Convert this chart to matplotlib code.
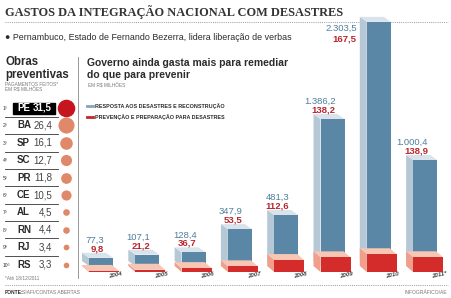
import matplotlib
matplotlib.use('Agg')
import matplotlib.pyplot as plt
from matplotlib.patches import Polygon, Rectangle

# ---------------- data ----------------
years = ['2004', '2005', '2006', '2007', '2008', '2009', '2010', '2011*']
resposta = [77.3, 107.1, 128.4, 347.9, 481.3, 1386.2, 2303.5, 1000.4]
prevencao = [9.8, 21.2, 36.7, 53.5, 112.6, 138.2, 167.5, 138.9]
states = ['PE', 'BA', 'SP', 'SC', 'PR', 'CE', 'AL', 'RN', 'RJ', 'RS']
state_vals = [31.5, 26.4, 16.1, 12.7, 11.8, 10.5, 4.5, 4.4, 3.4, 3.3]


def br(v):
    s = f"{v:,.1f}"
    return s.replace(',', 'X').replace('.', ',').replace('X', '.')


W, H = 451, 298
fig = plt.figure(figsize=(W / 100, H / 100), dpi=100)
ov = fig.add_axes([0, 0, 1, 1])
ov.set_xlim(0, W)
ov.set_ylim(H, 0)
ov.axis('off')

SANS = ['Liberation Sans', 'DejaVu Sans']
SERIF = ['Liberation Serif', 'DejaVu Serif']
DARK = '#2b2b2b'
GRAY = '#777777'

# ---------------- header ----------------
ov.text(5, 12, 'GASTOS DA INTEGRAÇÃO NACIONAL COM DESASTRES', family=SERIF,
        fontsize=8.9, fontweight='bold', color='#333333', ha='left', va='center')
ov.plot([5, 448], [22, 22], color='#999999', lw=0.7, ls=(0, (1, 1.2)))
ov.text(5, 38, '● Pernambuco, Estado de Fernando Bezerra, lidera liberação de verbas',
        family=SANS, fontsize=6.4, color=DARK, ha='left', va='center')

# ---------------- left panel ----------------
ov.text(5, 62, 'Obras', family=SANS, fontsize=8.3, fontweight='bold', color=DARK,
        ha='left', va='center')
ov.text(5, 75, 'preventivas', family=SANS, fontsize=8.3, fontweight='bold', color=DARK,
        ha='left', va='center')
ov.text(5, 85, 'PAGAMENTOS FEITOS*', family=SANS, fontsize=3.4, color=GRAY,
        ha='left', va='center')
ov.text(5, 90, 'EM R$ MILHÕES', family=SANS, fontsize=3.4, color=GRAY,
        ha='left', va='center')
ov.plot([78, 78], [57, 278], color='#888888', lw=0.6)

row0, rstep = 108, 17.4
vmax = max(state_vals)
for i, (st, val) in enumerate(zip(states, state_vals)):
    y = row0 + rstep * i
    ov.text(3, y + 0.5, f'{i + 1}º', family=SANS, fontsize=3.6, color='#333333',
            ha='left', va='center')
    if i == 0:
        ov.add_patch(Rectangle((13, y - 5.5), 42, 11, color='black', zorder=2))
        tcol = 'white'
        ccol = '#c4161c'
    else:
        tcol = DARK
        ccol = '#e0896a'
    ov.text(17, y, st, family=SANS, fontsize=7, fontweight='bold', color=tcol,
            ha='left', va='center', zorder=3)
    ov.text(52, y, br(val), family=SANS, fontsize=7,
            fontweight='bold' if i == 0 else 'normal',
            color=tcol if i == 0 else '#444444', ha='right', va='center', zorder=3)
    ov.scatter([66], [y], s=160 * val / vmax, color=ccol, zorder=3, linewidths=0)
    if i < len(states) - 1:
        ov.plot([5, 58], [y + 8.7, y + 8.7], color='#333333', lw=0.6)

ov.text(5, 278, '*Até 18/12/2011', family=SANS, fontsize=3.4, color=GRAY,
        ha='left', va='center')
ov.plot([5, 448], [285, 285], color='#999999', lw=0.7, ls=(0, (1, 1.2)))
ov.text(5, 292, 'FONTE:', family=SANS, fontsize=3.6, fontweight='bold', color=DARK,
        ha='left', va='center')
ov.text(22, 292, 'SIAFI/CONTAS ABERTAS', family=SANS, fontsize=3.6, color=GRAY,
        ha='left', va='center')
ov.text(447, 292, 'INFOGRÁFICO/AE', family=SANS, fontsize=3.6, color=GRAY,
        ha='right', va='center')

# ---------------- right panel header ----------------
ov.text(87, 63, 'Governo ainda gasta mais para remediar', family=SANS, fontsize=7.5,
        fontweight='bold', color=DARK, ha='left', va='center')
ov.text(87, 75, 'do que para prevenir', family=SANS, fontsize=7.5,
        fontweight='bold', color=DARK, ha='left', va='center')
ov.text(88, 86, 'EM R$ MILHÕES', family=SANS, fontsize=3.4, color=GRAY,
        ha='left', va='center')
ov.plot([87, 93], [106, 106], color='#8aa3b6', lw=2)
ov.text(95, 106, 'RESPOSTA AOS DESASTRES E RECONSTRUÇÃO', family=SANS, fontsize=3.9,
        fontweight='bold', color=DARK, ha='left', va='center')
ov.plot([87, 93], [117, 117], color='#c8242b', lw=2)
ov.text(95, 117, 'PREVENÇÃO E PREPARAÇÃO PARA DESASTRES', family=SANS, fontsize=3.9,
        fontweight='bold', color=DARK, ha='left', va='center')

# ---------------- 3D bar chart ----------------
X0, STEP = 101.0, 46.3   # px centre of first category, px per category
BASE, K = 266.0, 0.106   # px of blue base, px per million R$
PL, PR_, PT, PB = 78, 449, 10, 282
ax = fig.add_axes([PL / W, (H - PB) / H, (PR_ - PL) / W, (PB - PT) / H])
ax.set_xlim((PL - X0) / STEP, (PR_ - X0) / STEP)
ax.set_ylim((BASE - PB) / K, (BASE - PT) / K)
ax.axis('off')
ax.patch.set_alpha(0)


def px_x(p):
    return p / STEP


def px_y(p):
    return p / K


BF, BS, BT = '#5b87a6', '#b6c8d6', '#d9e3eb'
RF, RS, RT = '#d42b2b', '#ef9f8b', '#f7c6b5'

xs = list(range(len(years)))
bw = px_x(24)
ddx, ddy_b, ddy_r = px_x(7), px_y(5), px_y(6)
ax.bar(xs, resposta, width=bw, color=BF, linewidth=0, zorder=2)
rb = -px_y(6)
rw = px_x(30)
rx = [x + px_x(3) for x in xs]
ax.bar(rx, prevencao, width=rw, bottom=rb, color=RF, linewidth=0, zorder=5)

for x, v, r, yr in zip(xs, resposta, prevencao, years):
    xl, xr = x - bw / 2, x + bw / 2
    ax.add_patch(Polygon([(xl, 0), (xl, v), (xl - ddx, v + ddy_b), (xl - ddx, ddy_b)],
                         closed=True, color=BS, lw=0, zorder=1))
    ax.add_patch(Polygon([(xl, v), (xr, v), (xr - ddx, v + ddy_b), (xl - ddx, v + ddy_b)],
                         closed=True, color=BT, lw=0, zorder=1))
    rxl, rxr = x + px_x(3) - rw / 2, x + px_x(3) + rw / 2
    top = rb + r
    ax.add_patch(Polygon([(rxl, rb), (rxl, top), (rxl - ddx, top + ddy_r), (rxl - ddx, rb + ddy_r)],
                         closed=True, color=RS, lw=0, zorder=4))
    ax.add_patch(Polygon([(rxl, top), (rxr, top), (rxr - ddx, top + ddy_r), (rxl - ddx, top + ddy_r)],
                         closed=True, color=RT, lw=0, zorder=4))

    cap_top_px = BASE - v * K - 5
    if cap_top_px - 17 < 28:
        lx = xl - ddx - px_x(3)
        yb, yrd = v - px_y(6), v - px_y(17)
    else:
        lx = x + px_x(3)
        yb, yrd = v + px_y(5 + 12.5), v + px_y(5 + 4)
    ax.text(lx, yb, br(v), family=SANS, fontsize=6.8, color='#4f7e9e',
            ha='right', va='center', zorder=6)
    ax.text(lx, yrd, br(r), family=SANS, fontsize=6.8, fontweight='bold',
            color='#b8262e', ha='right', va='center', zorder=6)
    ax.text(x + px_x(14), -px_y(275 - BASE), yr, family=SANS, fontsize=4.4,
            fontweight='bold', fontstyle='italic', color='#444444', rotation=12,
            ha='center', va='center', zorder=6)

fig.savefig('out.png', dpi=100)
